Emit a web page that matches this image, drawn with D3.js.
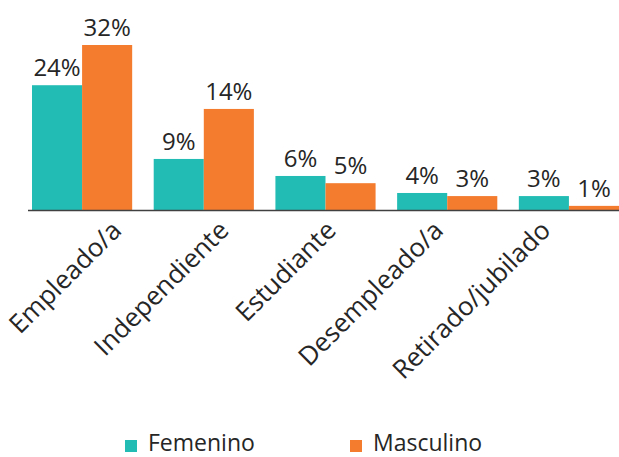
<!DOCTYPE html>
<html>
<head>
<meta charset="utf-8">
<script src="https://cdn.jsdelivr.net/npm/d3@7"></script>
<style>
  body { margin: 0; background: #fff; }
  text { font-family: "Open Sans", sans-serif; fill: #262626; }
</style>
</head>
<body>
<div id="chart"></div>
<script>
// Categories and series
const categorias = ['Empleado/a', 'Independiente', 'Estudiante', 'Desempleado/a', 'Retirado/jubilado'];
const series = ['Femenino', 'Masculino'];
// Bar heights (percent)
const femenino = [24.2, 9.9, 6.6, 3.3, 2.7];
const masculino = [32, 19.6, 5.2, 2.7, 0.8];
// Data labels as printed on the chart
const etiquetasFemenino = ['24%', '9%', '6%', '4%', '3%'];
const etiquetasMasculino = ['32%', '14%', '5%', '3%', '1%'];

const colores = ['#22bcb4', '#f47c2f'];

const width = 619;
const height = 457;

const svg = d3.select('#chart')
    .append('svg')
    .attr('width', width)
    .attr('height', height);

// Scales
const x0 = d3.scaleBand()
    .domain(categorias)
    .range([32, 619])
    .paddingInner(0.177);

const x1 = d3.scaleBand()
    .domain(series)
    .range([0, x0.bandwidth()]);

const y = d3.scaleLinear()
    .domain([0, 32])
    .range([210, 45]);

// label anchors sit on their own spacing in the original
const xLabel = d3.scalePoint()
    .domain(categorias)
    .range([123, 552]);

const color = d3.scaleOrdinal().domain(series).range(colores);

const rows = categorias.map((c, i) => ({
    categoria: c,
    valores: [
        { serie: 'Femenino', valor: femenino[i], etiqueta: etiquetasFemenino[i] },
        { serie: 'Masculino', valor: masculino[i], etiqueta: etiquetasMasculino[i] }
    ]
}));

// Bars
const groups = svg.append('g')
    .selectAll('g')
    .data(rows)
    .enter()
    .append('g')
    .attr('transform', d => `translate(${x0(d.categoria)},0)`);

groups.selectAll('rect')
    .data(d => d.valores)
    .enter()
    .append('rect')
    .attr('x', d => x1(d.serie))
    .attr('y', d => y(d.valor))
    .attr('width', x1.bandwidth())
    .attr('height', d => y(0) - y(d.valor))
    .attr('fill', d => color(d.serie));

// Value labels
groups.selectAll('text')
    .data(d => d.valores)
    .enter()
    .append('text')
    .attr('x', d => x1(d.serie) + x1.bandwidth() / 2)
    .attr('y', d => y(d.valor) - 9)
    .attr('text-anchor', 'middle')
    .style('font-size', '24px')
    .text(d => d.etiqueta);

// Baseline
svg.append('line')
    .attr('x1', 28)
    .attr('x2', 619)
    .attr('y1', y(0) + 0.5)
    .attr('y2', y(0) + 0.5)
    .attr('stroke', '#404040')
    .attr('stroke-width', 1.5);

// Category labels, rotated
svg.append('g')
    .selectAll('text')
    .data(categorias)
    .enter()
    .append('text')
    .attr('transform', d => `translate(${xLabel(d)},232) rotate(-45)`)
    .attr('text-anchor', 'end')
    .style('font-size', '26px')
    .text(d => d);

// Legend
const legend = svg.append('g')
    .selectAll('g')
    .data(series)
    .enter()
    .append('g')
    .attr('transform', (d, i) => `translate(${125 + i * 225},0)`);

legend.append('rect')
    .attr('x', 0)
    .attr('y', 440)
    .attr('width', 12)
    .attr('height', 12)
    .attr('fill', d => color(d));

legend.append('text')
    .attr('x', 23)
    .attr('y', 451)
    .style('font-size', '23px')
    .text(d => d);
</script>
</body>
</html>
